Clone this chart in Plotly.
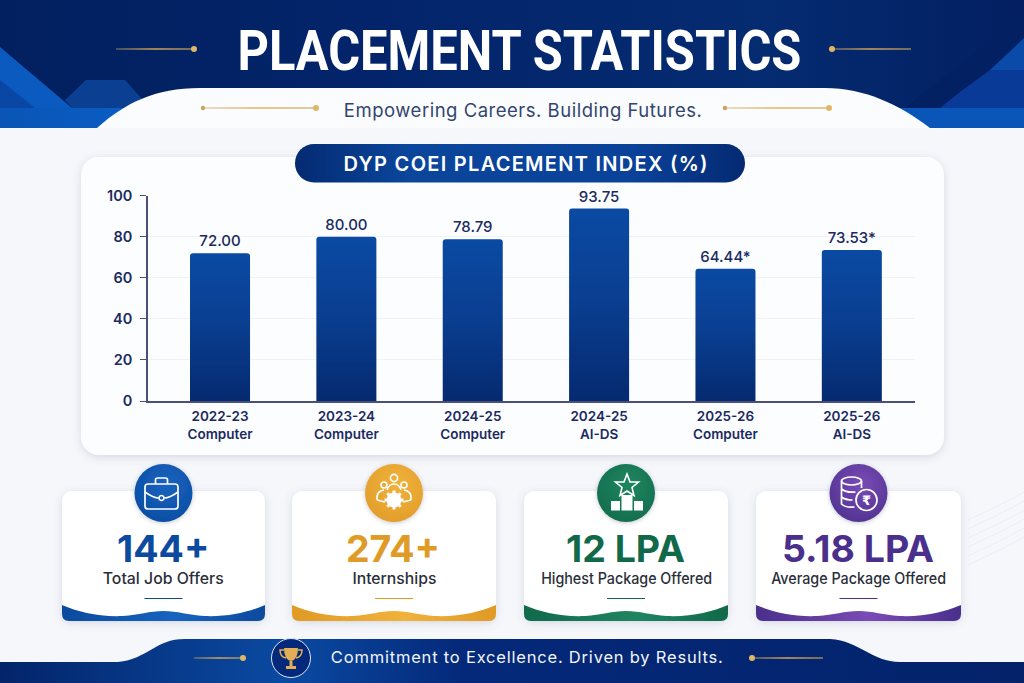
import base64
import json
import plotly.graph_objects as go

# chart values
years = ["2022-23", "2023-24", "2024-25", "2024-25", "2025-26", "2025-26"]
branches = ["Computer", "Computer", "Computer", "AI-DS", "Computer", "AI-DS"]
placement = [72.00, 80.00, 78.79, 93.75, 64.44, 73.53]
bar_labels = ["72.00", "80.00", "78.79", "93.75", "64.44*", "73.53*"]
y_ticks = [0, 20, 40, 60, 80, 100]

# kpi cards
kpi_values = ["144+", "274+", "12 LPA", "5.18 LPA"]
kpi_names = ["Total Job Offers", "Internships", "Highest Package Offered", "Average Package Offered"]
kpi_colors = ["#0b4a9e", "#e09a26", "#11694a", "#4a2f8c"]
kpi_light = ["#1763c0", "#f0b23c", "#1f8560", "#7a4bb5"]
kpi_left = [62, 292, 524, 756]
kpi_right = [265, 496, 728, 961]

W = 1024
H = 683


def gold_line(x0, x1, y, dot_x, both=False):
    s = f'<rect x="{x0}" y="{y-0.7}" width="{x1-x0}" height="1.4" fill="url(#gold)"/>'
    s += f'<circle cx="{dot_x}" cy="{y}" r="3" fill="#e0b765"/>'
    if both:
        other = x0 if dot_x == x1 else x1
        s += f'<circle cx="{other}" cy="{y}" r="2.2" fill="#c9a45c"/>'
    return s


svg = f'''<svg xmlns="http://www.w3.org/2000/svg" width="{W}" height="{H}" viewBox="0 0 {W} {H}">
<defs>
<linearGradient id="head" x1="0" x2="1" y1="0" y2="0">
<stop offset="0" stop-color="#02205f"/><stop offset="0.35" stop-color="#03246a"/><stop offset="0.75" stop-color="#052b70"/><stop offset="1" stop-color="#031f62"/></linearGradient>
<linearGradient id="pill" x1="0" x2="1" y1="0" y2="0">
<stop offset="0" stop-color="#042a72"/><stop offset="0.25" stop-color="#0a469b"/><stop offset="0.75" stop-color="#0a429a"/><stop offset="1" stop-color="#042a72"/></linearGradient>
<linearGradient id="bandL" x1="0" x2="1" y1="0" y2="0">
<stop offset="0" stop-color="#0a55b5"/><stop offset="1" stop-color="#0a5cc4"/></linearGradient>
<linearGradient id="foot" x1="0" x2="1" y1="0" y2="0">
<stop offset="0" stop-color="#03246a"/><stop offset="0.28" stop-color="#0a4aa2"/><stop offset="0.45" stop-color="#04297a"/><stop offset="1" stop-color="#03226a"/></linearGradient>
<linearGradient id="gold" x1="0" x2="1" y1="0" y2="0">
<stop offset="0" stop-color="#c9a45c" stop-opacity="0.5"/><stop offset="0.5" stop-color="#e3ae55"/><stop offset="1" stop-color="#c9a45c" stop-opacity="0.8"/></linearGradient>
<filter id="sh" x="-10%" y="-10%" width="120%" height="125%"><feDropShadow dx="0" dy="2" stdDeviation="4" flood-color="#5a6a8a" flood-opacity="0.22"/></filter>
<filter id="sh2" x="-10%" y="-10%" width="120%" height="125%"><feDropShadow dx="0" dy="1" stdDeviation="2" flood-color="#3a4a6a" flood-opacity="0.3"/></filter>
</defs>
<rect width="{W}" height="{H}" fill="#f5f7fb"/>
<rect width="{W}" height="128" fill="url(#head)"/>
<polygon points="0,47 72,108 0,108" fill="#0a5ac0"/>
<polygon points="0,80 35,108 0,108" fill="#0a47a4"/>
<polygon points="65,100 86,80 125,80 150,108 72,108" fill="#0a3f92"/>
<rect y="108" width="125" height="20" fill="url(#bandL)"/>
<polygon points="905,108 985,45 1024,20 1024,108" fill="#032063"/>
<polygon points="990,70 1024,38 1024,70" fill="#0a4aa8"/>
<polygon points="960,92 990,70 1024,70 1024,108 940,108" fill="#0a3a98"/>
<rect x="900" y="108" width="124" height="20" fill="#0a56b8"/>
<path d="M97,128 C125,103 155,88 200,88 L825,88 C865,88 900,105 930,128 Z" fill="#fbfcfe"/>
<rect x="81" y="157" width="863" height="298" rx="18" fill="#fcfdff" filter="url(#sh)"/>
<rect x="295" y="144" width="450" height="38.5" rx="19" fill="url(#pill)"/>
'''

svg += gold_line(116, 194, 49, 194) + gold_line(829, 911, 49, 832)
svg += gold_line(203, 316, 108, 316, True) + gold_line(725, 829, 108, 829, True)

for i in range(4):
    x0, x1 = kpi_left[i], kpi_right[i]
    w = x1 - x0
    c = kpi_colors[i]
    cx = (x0 + x1) / 2
    svg += f'<linearGradient id="wv{i}" x1="0" x2="1" y1="0" y2="0"><stop offset="0" stop-color="{c}"/><stop offset="0.55" stop-color="{kpi_light[i]}"/><stop offset="1" stop-color="{c}"/></linearGradient>'
    svg += f'<rect x="{x0}" y="491" width="{w}" height="130" rx="10" fill="#ffffff" filter="url(#sh)"/>'
    svg += (f'<path d="M{x0},605 C{x0+w*.08},612 {x0+w*.18},617 {x0+w*.3},616 C{x0+w*.38},615 {x0+w*.43},611 {x0+w*.5},611 '
            f'C{x0+w*.57},611 {x0+w*.62},615 {x0+w*.7},616 C{x0+w*.82},617 {x0+w*.92},612 {x1},605 L{x1},614 Q{x1},621 {x1-7},621 '
            f'L{x0+7},621 Q{x0},621 {x0},614 Z" fill="url(#wv{i})"/>')
    svg += f'<line x1="{cx-19}" x2="{cx+19}" y1="598.5" y2="598.5" stroke="{c}" stroke-width="1.2"/>'
    svg += f'<radialGradient id="ic{i}" cx="0.55" cy="0.35" r="0.8"><stop offset="0" stop-color="{kpi_light[i]}"/><stop offset="1" stop-color="{c}"/></radialGradient>'
    svg += f'<circle cx="{cx}" cy="493" r="29" fill="url(#ic{i})" filter="url(#sh2)"/>'

# briefcase
svg += '''<g fill="none" stroke="#fff" stroke-width="1.7" transform="translate(161.5,495)">
<rect x="-16.5" y="-11" width="33" height="25" rx="3"/><path d="M-6,-11 V-15 Q-6,-17 -4,-17 H4 Q6,-17 6,-15 V-11"/>
<path d="M-16.5,-3 Q-8,3 -3,3 M3,3 Q8,3 16.5,-3"/><circle cx="0" cy="3" r="2.5"/></g>'''
# people and gear
svg += '''<g fill="none" stroke="#fff" stroke-width="1.6" transform="translate(394,493)">
<circle cx="0" cy="-15" r="3.6"/><circle cx="-10" cy="-8" r="3"/><circle cx="10" cy="-8" r="3"/>
<path d="M-7,-3 Q-5,-9 0,-9 Q5,-9 7,-3"/><path d="M-17,7 Q-18,-2 -10,-3 M17,7 Q18,-2 10,-3"/>
<path d="M-17,7 L-9,9 M17,7 L9,9"/>
<circle cx="0" cy="7" r="7.5" fill="#fff" stroke="none"/><circle cx="0" cy="7" r="3" fill="#e09a26" stroke="none"/>
<path d="M0,-2.5 V16.5 M-9.5,7 H9.5 M-6.7,0.3 L6.7,13.7 M6.7,0.3 L-6.7,13.7" stroke-width="3"/></g>'''
# star and podium
svg += '''<g transform="translate(627,493)"><polygon points="0,-19 3,-11 11.5,-11 5,-5.5 7,2.5 0,-2 -7,2.5 -5,-5.5 -11.5,-11 -3,-11" fill="none" stroke="#fff" stroke-width="1.6"/>
<rect x="-5.5" y="2" width="11" height="15.5" fill="#fff"/><rect x="-16" y="8" width="9" height="9.5" fill="#fff"/><rect x="7" y="8" width="9" height="9.5" fill="#fff"/></g>'''
# coins
svg += '''<g fill="none" stroke="#fff" stroke-width="1.7" transform="translate(858.5,493)">
<ellipse cx="-7" cy="-12" rx="10" ry="4"/><path d="M-17,-12 V11 Q-13,15 -4,14 M3,-12 V-5 M-17,-4 Q-12,0 -3,-1 M-17,4 Q-13,7 -6,7"/>
<circle cx="8" cy="7" r="10.5"/></g>'''
# footer
svg += '''<path d="M0,662 L118,662 C148,659 155,639 185,639 L830,639 C860,641 872,662 900,662 L1024,662 L1024,683 L0,683 Z" fill="url(#foot)"/>
<circle cx="291" cy="658" r="19.5" fill="#04297a" stroke="#dfe8f8" stroke-width="1"/>
<g transform="translate(291,658)" fill="#e3ae55"><path d="M-7,-10 H7 Q7,2 0,3 Q-7,2 -7,-10 Z"/><path d="M-7,-8 H-11 Q-11,-1 -5,0 M7,-8 H11 Q11,-1 5,0" fill="none" stroke="#e3ae55" stroke-width="1.5"/>
<rect x="-1.5" y="3" width="3" height="5"/><rect x="-5" y="8" width="10" height="3"/></g>
'''
svg += gold_line(194, 243, 658, 243) + gold_line(750, 823, 658, 752)
# thin background waves
for k in range(6):
    svg += f'<path d="M{968},{520+k*9} C1000,{505+k*9} 1010,{500+k*9} 1024,{492+k*9}" fill="none" stroke="#e4e9f2" stroke-width="0.7"/>'
svg += '</svg>'
bg_uri = "data:image/svg+xml;base64," + base64.b64encode(svg.encode()).decode()

NAVY = "#1b2a5e"
tick_text = [y + "<br>" + b for y, b in zip(years, branches)]
cats = [str(i) for i in range(len(placement))]

fig = go.Figure(go.Bar(
    x=cats, y=placement, text=bar_labels, textposition="outside", cliponaxis=False,
    textfont=dict(family="Inter", size=15, color=NAVY, weight=500),
    marker=dict(color="#0a3f92", line_width=0, cornerradius=3), hoverinfo="skip"))


def px(x):
    return x / W


def py(y):
    return 1 - y / H


def label(text, x, y, size, color, family="Inter", weight=400):
    fig.add_annotation(text=text, x=px(x), y=py(y), xref="paper", yref="paper", showarrow=False,
                       xanchor="center", yanchor="middle",
                       font=dict(family=family, size=size, color=color, weight=weight))


label("PLACEMENT STATISTICS", 519, 50.5, 56, "#ffffff", "Roboto", 700)
label("Empowering Careers. Building Futures.", 523, 110, 18.5, "#33456f")
label("DYP COEI PLACEMENT INDEX (%)", 525, 164, 20, "#ffffff", "Inter", 600)
for i in range(4):
    cx = (kpi_left[i] + kpi_right[i]) / 2
    label(kpi_values[i], cx - 1, 548, 37.5, kpi_colors[i], "Inter", 700)
    label(kpi_names[i], cx, 578.5, 15.5, "#2a2f3a", "Inter", 500)
label("₹", 866, 500, 13, "#ffffff", "DejaVu Sans", 700)
label("Commitment to Excellence. Driven by Results.", 527, 657, 16.5, "#f2f5fb", "Inter", 400)

# widths measured on the picture, [px, adjust mode]
text_widths = {
    "PLACEMENT STATISTICS": [564, "spacingAndGlyphs"],
    "Empowering Careers. Building Futures.": [358, "spacing"],
    "DYP COEI PLACEMENT INDEX (%)": [364, "spacing"],
    "Commitment to Excellence. Driven by Results.": [392, "spacing"],
    "Total Job Offers": [121, "spacingAndGlyphs"],
    "Internships": [84, "spacingAndGlyphs"],
    "Highest Package Offered": [171, "spacingAndGlyphs"],
    "Average Package Offered": [175, "spacingAndGlyphs"],
}

fig.update_layout(
    width=W, height=H, autosize=False, margin=dict(l=0, r=0, t=0, b=0),
    paper_bgcolor="#f5f7fb", plot_bgcolor="rgba(0,0,0,0)", showlegend=False, bargap=0.525,
    images=[dict(source=bg_uri, xref="paper", yref="paper", x=0, y=1, sizex=1, sizey=1,
                 xanchor="left", yanchor="top", sizing="stretch", layer="below")],
    xaxis=dict(domain=[px(148), px(915)], type="category", range=[-0.57, 5.5], tickvals=cats, ticktext=tick_text,
               automargin=False, showline=True, linecolor="#4a5078", linewidth=1.5, showgrid=False, ticks="",
               ticklabelstandoff=2, tickfont=dict(family="Inter", size=13.5, color=NAVY, weight=600), fixedrange=True),
    yaxis=dict(domain=[py(401), py(195.7)], range=[0, 100], tickvals=y_ticks, automargin=False, showline=True,
               linecolor="#4a5078", linewidth=1.5, gridcolor="#f0f2f6", gridwidth=1, zeroline=False, ticks="outside",
               ticklen=6, tickcolor="#4a5078", ticklabelstandoff=5,
               tickfont=dict(family="Inter", size=14.5, color=NAVY, weight=600), fixedrange=True),
)

# bars get a vertical gradient once drawn, plotly bars only do flat colours
post = """
document.body.style.margin='0';
var gd=document.querySelector('.plotly-graph-div');
var svg=gd.querySelector('.main-svg');
var ns='http://www.w3.org/2000/svg';
var g=document.createElementNS(ns,'linearGradient');
g.setAttribute('id','barfade');g.setAttribute('x1','0');g.setAttribute('x2','0');g.setAttribute('y1','0');g.setAttribute('y2','1');
[['0','#0a4aa3'],['0.45','#0a3f92'],['1','#052a70']].forEach(function(s){
var st=document.createElementNS(ns,'stop');st.setAttribute('offset',s[0]);st.setAttribute('stop-color',s[1]);g.appendChild(st);});
svg.querySelector('defs').appendChild(g);
gd.querySelectorAll('.bars .point path').forEach(function(p){p.style.fill='url(#barfade)';});
var widths=""" + json.dumps(text_widths) + """;
gd.querySelectorAll('.annotation-text').forEach(function(t){
var w=widths[t.textContent];
if(w){t.setAttribute('textLength',w[0]);t.setAttribute('lengthAdjust',w[1]);}});
"""
fig.write_html("out.html", config=dict(displayModeBar=False), post_script=post)
